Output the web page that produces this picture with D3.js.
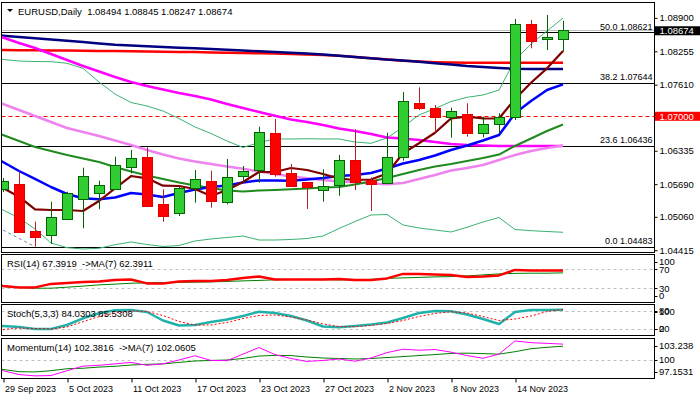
<!DOCTYPE html>
<html>
<head>
<meta charset="utf-8">
<script src="https://cdn.jsdelivr.net/npm/d3@7"></script>
<style>
  body { margin: 0; background: #fff; }
  svg text { font-family: "Liberation Sans", Arial, sans-serif; fill: #000; }
</style>
</head>
<body>
<div id="chart"></div>
<script>
// ---- data ----
const dates = ["28 Sep 2023", "29 Sep 2023", "2 Oct 2023", "3 Oct 2023", "4 Oct 2023", "5 Oct 2023", "6 Oct 2023",
  "9 Oct 2023", "10 Oct 2023", "11 Oct 2023", "12 Oct 2023", "13 Oct 2023", "16 Oct 2023", "17 Oct 2023",
  "18 Oct 2023", "19 Oct 2023", "20 Oct 2023", "23 Oct 2023", "24 Oct 2023", "25 Oct 2023", "26 Oct 2023",
  "27 Oct 2023", "30 Oct 2023", "31 Oct 2023", "1 Nov 2023", "2 Nov 2023", "3 Nov 2023", "6 Nov 2023",
  "7 Nov 2023", "8 Nov 2023", "9 Nov 2023", "10 Nov 2023", "13 Nov 2023", "14 Nov 2023", "15 Nov 2023",
  "16 Nov 2023", "17 Nov 2023"];
const dateTicks = ["29 Sep 2023", "5 Oct 2023", "11 Oct 2023", "17 Oct 2023", "23 Oct 2023",
  "27 Oct 2023", "2 Nov 2023", "8 Nov 2023", "14 Nov 2023"];

const open = [1.05030, 1.05597, 1.05693, 1.04786, 1.04695, 1.05018, 1.05404, 1.05514, 1.05583, 1.06015, 1.06214, 1.05301, 1.05128, 1.05610, 1.05751, 1.05340, 1.05842, 1.05950, 1.06677, 1.05905, 1.05732, 1.05571, 1.05668, 1.06156, 1.05770, 1.05707, 1.06208, 1.07256, 1.07160, 1.06992, 1.07038, 1.06672, 1.06845, 1.06980, 1.08781, 1.08486, 1.08494];
const high = [1.05780, 1.05809, 1.05930, 1.04965, 1.05351, 1.05544, 1.06008, 1.05757, 1.06220, 1.06349, 1.06401, 1.05591, 1.05635, 1.05963, 1.05950, 1.06176, 1.06040, 1.06799, 1.06948, 1.06079, 1.05732, 1.05977, 1.06253, 1.06749, 1.05822, 1.06683, 1.07469, 1.07559, 1.07218, 1.07166, 1.07251, 1.06992, 1.07058, 1.08878, 1.08858, 1.08955, 1.08845];
const low = [1.04880, 1.05539, 1.04747, 1.04483, 1.04535, 1.04998, 1.04838, 1.05205, 1.05577, 1.05900, 1.05255, 1.04965, 1.05075, 1.05332, 1.05236, 1.05301, 1.05737, 1.05718, 1.05834, 1.05641, 1.05211, 1.05351, 1.05467, 1.05577, 1.05172, 1.05693, 1.06143, 1.07120, 1.06683, 1.06587, 1.06606, 1.06594, 1.06672, 1.06928, 1.08312, 1.08279, 1.08247];
const close = [1.05660, 1.05751, 1.04772, 1.04676, 1.05050, 1.05514, 1.05842, 1.05668, 1.06054, 1.06189, 1.05274, 1.05062, 1.05610, 1.05784, 1.05371, 1.05822, 1.05938, 1.06691, 1.05892, 1.05660, 1.05629, 1.05649, 1.06156, 1.05737, 1.05699, 1.06208, 1.07295, 1.07166, 1.06992, 1.07102, 1.06672, 1.06851, 1.06986, 1.08781, 1.08459, 1.08525, 1.08674];

// moving averages on the price chart
const maMaroon = [1.05751, 1.05616, 1.05448, 1.05205, 1.05191, 1.05191, 1.05172, 1.05365, 1.05610, 1.05847, 1.05803, 1.05660, 1.05654, 1.05597, 1.05461, 1.05577, 1.05732, 1.05925, 1.05925, 1.06002, 1.05963, 1.05886, 1.05799, 1.05770, 1.05780, 1.05896, 1.06286, 1.06479, 1.06683, 1.06961, 1.06992, 1.06961, 1.06957, 1.07334, 1.07648, 1.07926, 1.08260];
const maBlue = [1.06291, 1.06118, 1.05944, 1.05790, 1.05635, 1.05500, 1.05417, 1.05398, 1.05433, 1.05519, 1.05490, 1.05442, 1.05519, 1.05587, 1.05635, 1.05664, 1.05722, 1.05761, 1.05761, 1.05757, 1.05780, 1.05809, 1.05847, 1.05867, 1.05905, 1.05992, 1.06089, 1.06156, 1.06243, 1.06349, 1.06436, 1.06533, 1.06639, 1.07058, 1.07295, 1.07507, 1.07617];
const maGreen = [1.06755, 1.06639, 1.06523, 1.06407, 1.06330, 1.06253, 1.06185, 1.06118, 1.06021, 1.05934, 1.05857, 1.05790, 1.05722, 1.05664, 1.05616, 1.05568, 1.05548, 1.05568, 1.05577, 1.05591, 1.05606, 1.05626, 1.05635, 1.05683, 1.05741, 1.05809, 1.05886, 1.05963, 1.06031, 1.06079, 1.06137, 1.06195, 1.06262, 1.06427, 1.06571, 1.06716, 1.06841];
const maViolet = [1.07334, 1.07237, 1.07121, 1.07006, 1.06890, 1.06774, 1.06697, 1.06620, 1.06533, 1.06446, 1.06349, 1.06262, 1.06185, 1.06127, 1.06079, 1.06031, 1.05988, 1.05934, 1.05886, 1.05838, 1.05803, 1.05770, 1.05741, 1.05726, 1.05703, 1.05687, 1.05712, 1.05790, 1.05867, 1.05954, 1.06002, 1.06060, 1.06156, 1.06253, 1.06330, 1.06388, 1.06436];
const maMagenta = [1.08627, 1.08521, 1.08415, 1.08318, 1.08202, 1.08086, 1.07971, 1.07864, 1.07758, 1.07662, 1.07585, 1.07517, 1.07449, 1.07392, 1.07324, 1.07237, 1.07160, 1.07083, 1.07011, 1.06938, 1.06890, 1.06832, 1.06764, 1.06716, 1.06658, 1.06591, 1.06571, 1.06542, 1.06504, 1.06465, 1.06446, 1.06436, 1.06427, 1.06427, 1.06427, 1.06427, 1.06427];
const maRed = [1.08283, 1.08279, 1.08276, 1.08274, 1.08270, 1.08268, 1.08264, 1.08260, 1.08258, 1.08254, 1.08250, 1.08247, 1.08243, 1.08239, 1.08233, 1.08227, 1.08221, 1.08216, 1.08210, 1.08202, 1.08193, 1.08183, 1.08167, 1.08144, 1.08119, 1.08096, 1.08071, 1.08056, 1.08044, 1.08036, 1.08034, 1.08034, 1.08034, 1.08034, 1.08034, 1.08034, 1.08034];
const maNavy = [1.08579, 1.08555, 1.08530, 1.08505, 1.08482, 1.08457, 1.08434, 1.08405, 1.08382, 1.08366, 1.08351, 1.08337, 1.08324, 1.08312, 1.08299, 1.08285, 1.08270, 1.08254, 1.08241, 1.08225, 1.08210, 1.08193, 1.08167, 1.08144, 1.08119, 1.08094, 1.08079, 1.08052, 1.08025, 1.07998, 1.07971, 1.07951, 1.07932, 1.07918, 1.07913, 1.07913, 1.07913];
const bbUpper = [1.08115, 1.08096, 1.08067, 1.08057, 1.08054, 1.08023, 1.07926, 1.07662, 1.07430, 1.07266, 1.07199, 1.07102, 1.06957, 1.06793, 1.06668, 1.06523, 1.06398, 1.06494, 1.06562, 1.06562, 1.06567, 1.06562, 1.06562, 1.06504, 1.06479, 1.06581, 1.06793, 1.07025, 1.07150, 1.07285, 1.07366, 1.07411, 1.07507, 1.08086, 1.08395, 1.08646, 1.08897];
const bbLower = [1.05326, 1.05191, 1.05037, 1.04825, 1.04554, 1.04464, 1.04439, 1.04452, 1.04521, 1.04574, 1.04525, 1.04487, 1.04506, 1.04593, 1.04632, 1.04660, 1.04689, 1.04612, 1.04612, 1.04622, 1.04641, 1.04689, 1.04834, 1.04969, 1.05095, 1.05104, 1.04902, 1.04844, 1.04805, 1.04767, 1.04857, 1.04960, 1.05046, 1.04815, 1.04792, 1.04776, 1.04761];

// oscillators
const rsi = [41.3, 34.9, 31.8, 31.8, 39.2, 41.3, 43.4, 44.4, 47.6, 48.6, 40.2, 40.2, 44.4, 45.5, 45.5, 47.6, 51.8, 54.9, 48.6, 48.6, 48.6, 48.6, 49.7, 47.6, 47.6, 50.7, 60.2, 60.2, 59.2, 58.1, 53.9, 54.9, 57.1, 68.6, 67.2, 67.2, 67.3919];
const rsiMa = [33.9, 33.5, 31.8, 30.1, 30.1, 32.2, 34.5, 37.1, 38.7, 40.6, 41.3, 41.9, 42.3, 42.7, 43.4, 44.4, 45.5, 46.5, 47.6, 48.6, 48.6, 48.0, 47.6, 47.6, 48.6, 50.7, 51.8, 52.8, 53.9, 54.5, 56.0, 58.1, 60.2, 61.3, 61.7, 61.7, 62.3911];
const stochK = [30, 30, 26.7, 20, 20, 33.3, 55.7, 72.3, 82.3, 83.3, 76.7, 48.3, 31.7, 33.3, 43.3, 51.7, 63.3, 77.7, 73.3, 63.3, 48.3, 28.3, 25.7, 30, 35, 41.7, 56.7, 73.3, 80, 79, 68.3, 53.3, 36.7, 76.7, 83.3, 83.3, 84.0303];
const stochD = [16.7, 18.3, 23.3, 21.7, 20, 26.7, 44.3, 61.7, 73.3, 80, 78.3, 65, 45, 33.3, 33.3, 41.7, 55, 65, 66.7, 60, 50, 36.7, 28.3, 27.7, 31.7, 38.3, 48.3, 61.7, 71.7, 77.7, 73.3, 61.7, 48.3, 53.3, 63.3, 78.3, 85.5308];
const momentum = [98.79, 98.34, 97.75, 97.55, 97.60, 98.34, 99.04, 99.16, 99.38, 99.60, 99.16, 99.38, 99.97, 100.61, 99.90, 99.87, 100.86, 101.86, 100.79, 100.20, 99.75, 99.90, 100.12, 99.78, 100.27, 101.09, 101.61, 101.46, 101.56, 101.16, 100.64, 100.23, 100.86, 102.87, 102.60, 102.50, 102.3816];
const momentumMa = [98.71, 98.53, 98.19, 98.15, 98.34, 98.64, 98.71, 98.89, 99.01, 99.20, 99.31, 99.38, 99.60, 99.82, 99.90, 99.97, 100.20, 100.57, 100.67, 100.64, 100.42, 100.27, 100.20, 100.12, 100.20, 100.34, 100.49, 100.64, 100.79, 100.97, 101.01, 100.94, 100.86, 101.23, 101.68, 101.90, 102.0605];

// levels and labels
const priceTicks = [1.08900, 1.08255, 1.07610, 1.06335, 1.05690, 1.05060, 1.04415];
const fibLevels = ["0.0", "23.6", "38.2", "50.0"];
const fibPrices = [1.04483, 1.06436, 1.07644, 1.08621];
const fibTrendDates = ["28 Sep 2023", "3 Oct 2023"];
const fibTrendPrices = [1.04965, 1.04483];
const bidPrice = 1.08674;
const alertPrice = 1.07000;
const rsiLevels = [70, 30];
const stochLevels = [80, 20];
const momLevels = [100];
const momTicks = [103.238, 100, 97.1531];

// ---- layout ----
const W = 700, H = 400;
const left = 1.5, right = 654.5;
const mainTop = 2.5, mainBottom = 252.5;
const rsiTop = 254.5, rsiBottom = 302.5;
const stTop = 304.5, stBottom = 335.5;
const momTop = 338.5, momBottom = 378.5;

const svg = d3.select("#chart").append("svg")
  .attr("width", W).attr("height", H);
svg.append("rect").attr("width", W).attr("height", H).attr("fill", "#fff");

const x = d3.scalePoint().domain(dates).range([-13, 563]);
const yMain = d3.scaleLinear().domain([1.04367, 1.09206]).range([252.7, 2]);
const yRsi = d3.scaleLinear().domain([0, 100]).range([302.5, 255]);
const ySt = d3.scaleLinear().domain([0, 100]).range([335, 305]);
const yMom = d3.scaleLinear().domain([97.1531, 103.238]).range([378.5, 338.5]);

const defs = svg.append("defs");
function panel(id, top, bottom) {
  defs.append("clipPath").attr("id", id).append("rect")
    .attr("x", left).attr("y", top).attr("width", right - left).attr("height", bottom - top);
  return svg.append("g").attr("clip-path", `url(#${id})`);
}

const gMain = panel("clipMain", mainTop, mainBottom);
const gRsi = panel("clipRsi", rsiTop, rsiBottom);
const gSt = panel("clipSt", stTop, stBottom);
const gMom = panel("clipMom", momTop, momBottom);

function drawLine(g, values, y, color, width, dash) {
  const line = d3.line().x((d, i) => x(dates[i])).y(d => y(d));
  g.append("path").datum(values)
    .attr("d", line)
    .attr("fill", "none")
    .attr("stroke", color)
    .attr("stroke-width", width)
    .attr("stroke-linejoin", "round")
    .attr("stroke-dasharray", dash || null);
}

function hLine(g, y, color, dash) {
  g.append("line")
    .attr("x1", left).attr("x2", right)
    .attr("y1", Math.round(y) + 0.5).attr("y2", Math.round(y) + 0.5)
    .attr("stroke", color).attr("stroke-width", 1)
    .attr("stroke-dasharray", dash || null);
}

// ---- main chart ----
hLine(gMain, yMain(bidPrice), "#c0c0c0");
fibPrices.forEach(p => hLine(gMain, yMain(p), "#000"));
hLine(gMain, yMain(alertPrice), "#ff0000", "4,3");

gMain.append("line")
  .attr("x1", x(fibTrendDates[0])).attr("y1", yMain(fibTrendPrices[0]))
  .attr("x2", x(fibTrendDates[1])).attr("y2", yMain(fibTrendPrices[1]))
  .attr("stroke", "#708090").attr("stroke-dasharray", "3,3");

drawLine(gMain, bbUpper, yMain, "#3cb371", 1);
drawLine(gMain, bbLower, yMain, "#3cb371", 1);
drawLine(gMain, maRed, yMain, "#ff0000", 2.5);
drawLine(gMain, maNavy, yMain, "#000080", 2.5);
drawLine(gMain, maMagenta, yMain, "#ff00ff", 2.5);
drawLine(gMain, maViolet, yMain, "#ee82ee", 2.5);
drawLine(gMain, maGreen, yMain, "#1f8b1f", 2);
drawLine(gMain, maBlue, yMain, "#0000ff", 2.5);
drawLine(gMain, maMaroon, yMain, "#800000", 2.2);

// candles
const candles = dates.map((d, i) => ({ d, o: open[i], h: high[i], l: low[i], c: close[i] }));
const cg = gMain.selectAll("g.candle").data(candles).join("g").attr("class", "candle");
cg.append("line")
  .attr("x1", d => x(d.d) + 0.5).attr("x2", d => x(d.d) + 0.5)
  .attr("y1", d => yMain(d.h)).attr("y2", d => yMain(d.l))
  .attr("stroke", d => d.c >= d.o ? "#006400" : "#b22222");
cg.append("rect")
  .attr("x", d => x(d.d) - 4.5)
  .attr("width", 10)
  .attr("y", d => Math.round(yMain(Math.max(d.o, d.c))) + 0.5)
  .attr("height", d => Math.max(1, Math.round(Math.abs(yMain(d.o) - yMain(d.c)))))
  .attr("fill", d => d.c >= d.o ? "#32cd32" : "#ff0000")
  .attr("stroke", d => d.c >= d.o ? "#006400" : "#e00000");

// fibo texts
gMain.selectAll("text.fib").data(fibPrices).join("text")
  .attr("class", "fib")
  .attr("x", 652.5).attr("y", d => yMain(d) - 2.5)
  .attr("text-anchor", "end").attr("font-size", 9)
  .text((d, i) => `${fibLevels[i]} ${d.toFixed(5)}`);

// title
svg.append("path").attr("d", "M7,9L13,9L10,12Z").attr("fill", "#000");
svg.append("text").attr("x", 18).attr("y", 14.5).attr("font-size", 9.5)
  .style("white-space", "pre")
  .text(`EURUSD,Daily  ${open[open.length - 1].toFixed(5)} ${high[high.length - 1].toFixed(5)} ${low[low.length - 1].toFixed(5)} ${close[close.length - 1].toFixed(5)}`);

// ---- RSI ----
rsiLevels.forEach(v => hLine(gRsi, yRsi(v), "#c0c0c0", "3,3"));
drawLine(gRsi, rsiMa, yRsi, "#008000", 1);
drawLine(gRsi, rsi, yRsi, "#ff0000", 2.5);

// ---- Stochastic ----
stochLevels.forEach(v => hLine(gSt, ySt(v), "#c0c0c0", "3,3"));
drawLine(gSt, stochK, ySt, "#20b2aa", 2.5);
drawLine(gSt, stochD, ySt, "#ff0000", 1, "2,2");

// ---- Momentum ----
momLevels.forEach(v => hLine(gMom, yMom(v), "#c0c0c0", "3,3"));
drawLine(gMom, momentumMa, yMom, "#008000", 1);
drawLine(gMom, momentum, yMom, "#ff00ff", 1);

// panel captions
const last = a => a[a.length - 1];
const captions = [
  [`RSI(14) ${last(rsi).toFixed(4)}  ->MA(7) ${last(rsiMa).toFixed(4)}`, 267],
  [`Stoch(5,3,3) ${last(stochK).toFixed(4)} ${last(stochD).toFixed(4)}`, 316.5],
  [`Momentum(14) ${last(momentum).toFixed(4)}  ->MA(7) ${last(momentumMa).toFixed(4)}`, 351]
];
captions.forEach(([t, y]) => svg.append("text").attr("x", 7).attr("y", y)
  .attr("font-size", 9.5).style("white-space", "pre").text(t));

// ---- frames ----
[[mainTop, mainBottom], [rsiTop, rsiBottom], [stTop, stBottom], [momTop, momBottom]].forEach(([t, b]) => {
  svg.append("rect").attr("x", left).attr("y", t).attr("width", right - left).attr("height", b - t)
    .attr("fill", "none").attr("stroke", "#000");
});

// ---- price axis ----
const axisR = svg.append("g").attr("transform", `translate(${right},0)`)
  .call(d3.axisRight(yMain).tickValues(priceTicks).tickSize(3).tickPadding(2).tickFormat(d3.format(".5f")));
axisR.select(".domain").remove();
axisR.selectAll("text").attr("font-size", 9.5).attr("font-family", null);

function priceBox(p, bg, dy) {
  const y = yMain(p) + dy;
  svg.append("rect").attr("x", 655).attr("y", y - 4.5).attr("width", 45).attr("height", 9).attr("fill", bg);
  svg.append("text").attr("x", 659.5).attr("y", y).attr("dy", "0.35em")
    .attr("font-size", 9.5).style("fill", "#fff").text(p.toFixed(5));
}
priceBox(bidPrice, "#000", 1.2);
priceBox(alertPrice, "#ff0000", 0);

// ---- sub-window scales ----
function subLabels(y, values, fmt, top, bottom) {
  const [lo, hi] = y.domain();
  values.forEach(v => {
    const yy = v === hi ? top + 7 : v === lo ? bottom - 7 : y(v);
    svg.append("line").attr("x1", right).attr("x2", right + 3)
      .attr("y1", Math.round(yy) + 0.5).attr("y2", Math.round(yy) + 0.5).attr("stroke", "#000");
    svg.append("text").attr("x", 659).attr("y", yy).attr("dy", "0.35em")
      .attr("font-size", 9.5).text(fmt(v));
  });
}
subLabels(yRsi, [100, 70, 30, 0], String, rsiTop, rsiBottom);
subLabels(ySt, [100, 80, 20, 0], String, stTop, stBottom);
subLabels(yMom, momTicks, String, momTop, momBottom);

// ---- time axis ----
const axisB = svg.append("g").attr("transform", `translate(0,${momBottom})`)
  .call(d3.axisBottom(x).tickValues(dateTicks).tickSize(4).tickPadding(3));
axisB.select(".domain").remove();
axisB.selectAll(".tick line").attr("transform", "translate(0.5,0)");
axisB.selectAll("text").attr("font-size", 9).attr("font-family", null)
  .attr("text-anchor", "start").attr("x", 1.5);
</script>
</body>
</html>
